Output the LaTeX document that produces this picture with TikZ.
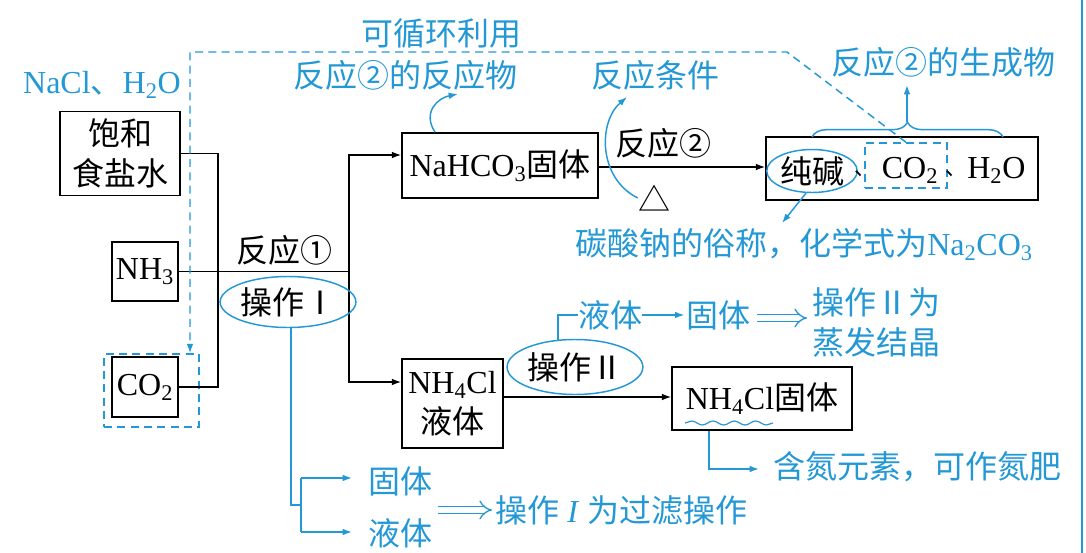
\documentclass[tikz,border=0pt]{standalone}
\usepackage{fontspec}
\setmainfont{Liberation Serif}
\newfontfamily\cjk{Noto Sans CJK SC}
\usetikzlibrary{arrows.meta,shapes.geometric,decorations.pathmorphing,decorations.pathreplacing}
\definecolor{bl}{RGB}{35,152,213}
\newcommand\zh{\cjk}
\tikzset{
  box/.style={draw,line width=1.2pt,inner sep=0pt,align=center},
  ln/.style={line width=1pt},
  arr/.style={ln,-{Latex[length=7pt,width=5pt]}},
  bln/.style={bl,line width=1.1pt},
  barr/.style={bln,-{Latex[length=7pt,width=5pt]}},
  btxt/.style={text=bl,inner sep=0pt},
  ell/.style={draw=bl,line width=1.1pt,ellipse,inner sep=0pt},
  dbl/.style={bl,line width=1pt,double,double distance=4pt,-{Implies}},
  dsh/.style={bl,line width=1.1pt,dash pattern=on 6pt off 4pt},
  dun/.style={inner sep=0pt,anchor=west,font=\fontsize{16}{20}\selectfont},
}
\begin{document}
\begin{tikzpicture}[x=0.75pt,y=-0.75pt,font=\fontsize{24}{30}\selectfont]
\useasboundingbox (0,0) rectangle (1086,553);
% right border
\draw[bl,line width=0.8pt] (1082,0) -- (1082,553);

% black boxes
\node[box,minimum width=120*0.75pt,minimum height=84*0.75pt] (salt) at (120,153.5) {{\zh 饱和}\\{\zh 食盐水}};
\node[box,minimum width=66*0.75pt,minimum height=59*0.75pt] (nh3) at (145,271.5) {NH\textsubscript{3}};
\node[box,minimum width=66*0.75pt,minimum height=60*0.75pt] (co2) at (145,387) {CO\textsubscript{2}};
\node[dsh,draw,minimum width=95*0.75pt,minimum height=73*0.75pt,inner sep=0pt] (co2d) at (151.5,390.5) {};
\node[box,minimum width=196*0.75pt,minimum height=65*0.75pt] (nahco3) at (500,165.5) {NaHCO\textsubscript{3}{\zh 固体}};
\node[box,minimum width=272*0.75pt,minimum height=63*0.75pt] (prod) at (902,168.5) {};
\node[box,minimum width=101*0.75pt,minimum height=89*0.75pt] (nh4l) at (452.5,403.5) {NH\textsubscript{4}Cl\\{\zh 液体}};
\node[box,minimum width=180*0.75pt,minimum height=63*0.75pt] (nh4s) at (762,398.5) {NH\textsubscript{4}Cl{\zh 固体}};

% product box contents
\node[ell,minimum width=80*0.75pt,minimum height=43*0.75pt] (cj) at (812,171) {{\zh 纯碱}};
\node[dun] (d1) at (854,174) {{\zh 、}};
\node[dsh,draw,minimum width=82*0.75pt,minimum height=45*0.75pt,inner sep=0pt] (cod) at (906,165.5) {};
\node[inner sep=0pt] (cot) at (910,170) {CO\textsubscript{2}};
\node[dun] (d2) at (945,174) {{\zh 、}};
\node[inner sep=0pt,anchor=west] (h2o) at (967,170) {H\textsubscript{2}O};

% black connectors
\draw[ln] (salt.east) -| (co2.east -| 218,0) -- (co2.east);
\draw[ln] (nh3.east) -- (349,0 |- nh3.east) coordinate (b1);
\draw[arr] (b1) |- (nahco3.west |- 0,155);
\draw[arr] (b1) |- (nh4l.west |- 0,382);
\draw[arr] (nahco3.east |- 0,167) -- (prod.west |- 0,167);
\draw[arr] (nh4l.east |- 0,397) -- (nh4s.west |- 0,397);

% black labels
\node (r1) at (284,250) {{\zh 反应①}};
\node (r2) at (663,143) {{\zh 反应②}};
\node[inner sep=0pt] (tri) at (654,198) {{\zh △}};

% operation I
\node[ell,minimum width=118*0.75pt,minimum height=51*0.75pt] (op1) at (288,302) {{\zh 操作Ⅰ}};
\draw[bln] (291,0 |- op1.south) -- (291,505) -- (301,505);
\draw[bln] (301,478) -- (301,532);
\node[btxt] (gt1) at (400,481) {{\zh 固体}};
\node[btxt] (lt1) at (400,533) {{\zh 液体}};
\draw[barr] (301,478) -- (352,478);
\draw[barr] (301,532) -- (352,532);
\draw[dbl] (438,510) -- (492,510);
\node[btxt,anchor=west] (f1) at (495,510) {{\zh 操作} \textit{I} {\zh 为过滤操作}};

% operation II
\node[ell,minimum width=125*0.75pt,minimum height=55*0.75pt] (op2) at (575,367) {{\zh 操作Ⅱ}};
\node[btxt] (lt2) at (610,315) {{\zh 液体}};
\node[btxt] (gt2) at (718,315) {{\zh 固体}};
\draw[bln] (op2.122) |- (lt2.west);
\draw[barr,shorten >=1pt] (lt2.east) -- (gt2.west);
\draw[dbl] (757,318) -- (807,318);
\node[btxt,anchor=west,align=left] (e2) at (812,322) {{\zh 操作Ⅱ为}\\{\zh 蒸发结晶}};

% NH4Cl solid
\draw[bl,line width=0.9pt,decorate,decoration={snake,segment length=16pt,amplitude=1.5pt}] (685,423) -- (773,423);
\node[btxt,anchor=west] (n1) at (773,467) {{\zh 含氮元素，可作氮肥}};
\draw[barr] (709,0 |- nh4s.south) |- (759,469);

% reaction 2 annotations
\node[btxt] (rr) at (405,75) {{\zh 反应②的反应物}};
\draw[barr] (435,0 |- nahco3.north) .. controls (422,112) and (438,98) .. (458,94);
\node[btxt] (cond) at (655,75) {{\zh 反应条件}};
\draw[barr] (tri.west) .. controls (598,178) and (598,122) .. (627,97);
\node[btxt] (gen) at (943,62) {{\zh 反应②的生成物}};
\draw[bln,decorate,decoration={brace,amplitude=11pt}] (812,137) -- (1003,137);
\draw[barr] (907,122) -- (907,85);
\node[btxt] (su) at (804,245) {{\zh 碳酸钠的俗称，化学式为}Na\textsubscript{2}CO\textsubscript{3}};
\draw[barr] (cj.-105) -- (782,223);

% inputs and recycle
\node[btxt] (nacl) at (102,85) {NaCl{\zh 、}H\textsubscript{2}O};
\node[btxt] (xh) at (441,33) {{\zh 可循环利用}};
\draw[dsh,-{Latex[length=7pt,width=5pt]}] (cod.north) -- (787,52) -- (190,52) -- (190,0 |- co2d.north);
\end{tikzpicture}
\end{document}
